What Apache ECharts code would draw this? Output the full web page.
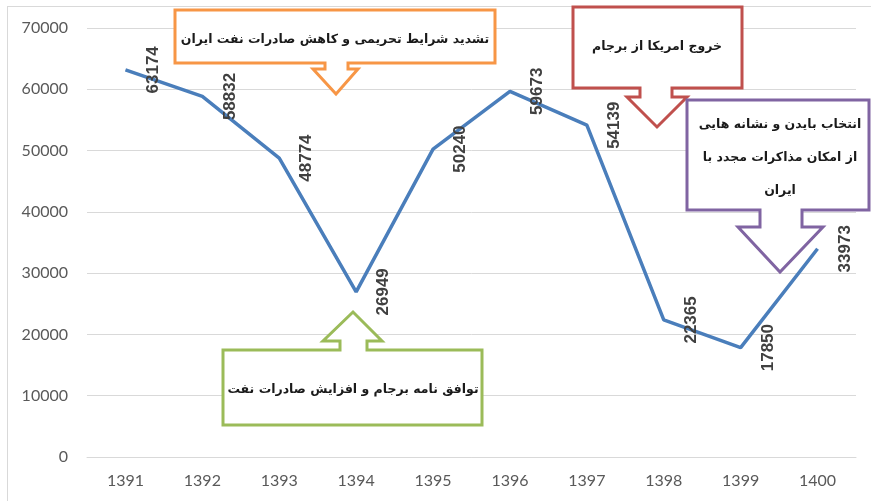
<!DOCTYPE html>
<html>
<head>
<meta charset="utf-8">
<script src="https://cdn.jsdelivr.net/npm/echarts@6/dist/echarts.min.js"></script>
<style>html,body{margin:0;padding:0;background:#fff}#c{width:871px;height:501px}</style>
</head>
<body>
<div id="c"></div>
<script>
var years = ['1391','1392','1393','1394','1395','1396','1397','1398','1399','1400'];
var values = [63174, 58832, 48774, 26949, 50240, 59673, 54139, 22365, 17850, 33973];
var yTicks = [0, 10000, 20000, 30000, 40000, 50000, 60000, 70000];
var notes = {
  orange: ['تشدید شرایط تحریمی و کاهش صادرات نفت ایران'],
  red: ['خروج امریکا از برجام'],
  purple: ['انتخاب بایدن و نشانه هایی', 'از امکان مذاکرات مجدد با', 'ایران'],
  green: ['توافق نامه برجام و افزایش صادرات نفت']
};

function downCallout(b, s, h, tip, color) {
  return {
    type: 'polygon', z: 100,
    shape: { points: [[b[0],b[1]],[b[2],b[1]],[b[2],b[3]],[s[1],b[3]],[s[1],s[2]],[h[1],s[2]],tip,[h[0],s[2]],[s[0],s[2]],[s[0],b[3]],[b[0],b[3]]] },
    style: { fill: '#fff', stroke: color, lineWidth: 3, lineJoin: 'miter' }
  };
}
function upCallout(b, s, h, tip, color) {
  return {
    type: 'polygon', z: 100,
    shape: { points: [[b[0],b[3]],[b[2],b[3]],[b[2],b[1]],[s[1],b[1]],[s[1],s[2]],[h[1],s[2]],tip,[h[0],s[2]],[s[0],s[2]],[s[0],b[1]],[b[0],b[1]]] },
    style: { fill: '#fff', stroke: color, lineWidth: 3, lineJoin: 'miter' }
  };
}
function txt(lines, x, y0, dy) {
  return lines.map(function (t, i) {
    return {
      type: 'text', z: 101, x: x, y: y0 + i * dy,
      style: { text: t, font: 'bold 12.5px "DejaVu Sans"', fill: '#1a1a1a',
        textAlign: 'center', textVerticalAlign: 'middle', align: 'center', verticalAlign: 'middle' }
    };
  });
}

var chart = echarts.init(document.getElementById('c'), null, { renderer: 'canvas' });
var graphics = [
  { type: 'line', z: 1, shape: { x1: 7.5, y1: 6, x2: 7.5, y2: 501 }, style: { stroke: '#d9d9d9', lineWidth: 1 } },
  { type: 'line', z: 1, shape: { x1: 7, y1: 6.5, x2: 871, y2: 6.5 }, style: { stroke: '#d9d9d9', lineWidth: 1 } },
  downCallout([175,10,495,63], [325,348,69], [313,358], [336,94], '#F79646'),
  downCallout([573,7,742,88], [640,672,97], [627,687], [657,127], '#C0504D'),
  downCallout([687,100,869,210], [760,802,227], [738,823], [780,272], '#8064A2'),
  upCallout([223,350,482,425], [340,367,341], [323,382], [353,312], '#9BBB59')
].concat(txt(notes.orange, 335, 40, 0))
 .concat(txt(notes.red, 657, 47, 0))
 .concat(txt(notes.purple, 780, 125, 33))
 .concat(txt(notes.green, 353, 390, 0));

chart.setOption({
  animation: false,
  backgroundColor: '#fff',
  grid: { left: 87, right: 15, top: 28, bottom: 44, containLabel: false },
  xAxis: {
    type: 'category', data: years, boundaryGap: true,
    axisLine: { show: true, lineStyle: { color: '#d9d9d9' } },
    axisTick: { show: false },
    axisLabel: { color: '#595959', fontSize: 16, fontFamily: 'Lato', margin: 16 },
    splitLine: { show: false }
  },
  yAxis: {
    type: 'value', min: yTicks[0], max: yTicks[yTicks.length - 1], interval: 10000,
    axisLine: { show: false }, axisTick: { show: false },
    axisLabel: { color: '#595959', fontSize: 16, fontFamily: 'Lato', margin: 19,
      formatter: function (v) { return String(v); } },
    splitLine: { lineStyle: { color: '#d9d9d9', width: 1 } }
  },
  series: [{
    type: 'line', data: values,
    symbol: 'circle', symbolSize: 1, showSymbol: true,
    itemStyle: { color: 'transparent', borderWidth: 0 },
    lineStyle: { color: '#4A7EBB', width: 3.5 },
    label: {
      show: true, position: 'right', distance: 27, rotate: 90,
      align: 'center', verticalAlign: 'middle',
      color: '#404040', fontSize: 17, fontWeight: 'bold', fontFamily: '"Liberation Sans", Arial'
    },
    emphasis: { disabled: true },
    z: 10
  }],
  graphic: graphics
});
</script>
</body>
</html>
